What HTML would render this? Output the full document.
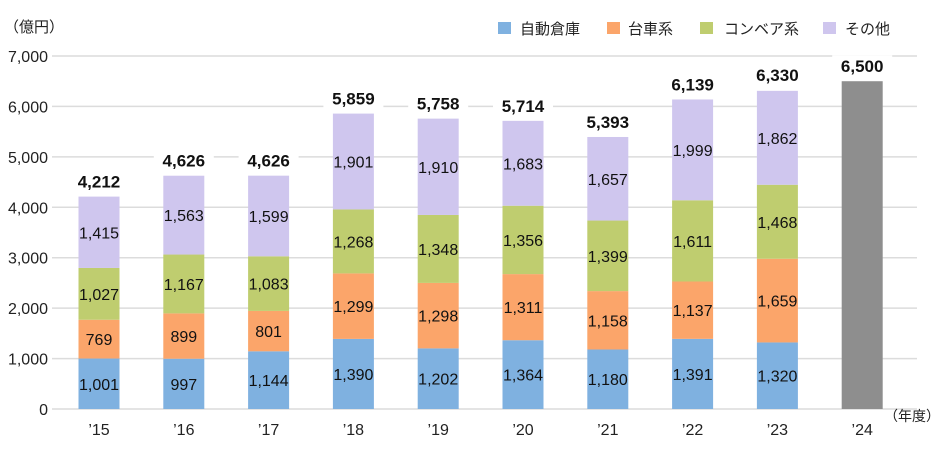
<!DOCTYPE html>
<html><head><meta charset="utf-8"><style>
body{margin:0;background:#fff}
svg text{font-family:"Liberation Sans","Noto Sans CJK JP",sans-serif}
</style></head><body>
<svg id="chart" width="940" height="450" xmlns="http://www.w3.org/2000/svg">
<g id="grid"></g>
<g id="yt"></g>
<g id="bars"></g>
<g id="xt"></g>
<text x="4" y="32" font-size="15" fill="#222">（億円）</text>
<text x="884" y="421" font-size="14" fill="#222">（年度）</text>
<g>
<rect x="498" y="22" width="13" height="12" fill="#7fb1e0"/>
<text x="520" y="34" font-size="15" fill="#222">自動倉庫</text>
<rect x="607" y="22" width="13" height="12" fill="#fba56a"/>
<text x="628" y="34" font-size="15" fill="#222">台車系</text>
<rect x="700" y="22" width="13" height="12" fill="#bfcd6f"/>
<text x="724" y="34" font-size="15" fill="#222">コンベア系</text>
<rect x="823" y="22" width="13" height="12" fill="#cfc6ee"/>
<text x="845" y="34" font-size="15" fill="#222">その他</text>
</g>
</svg>
<script>
const categories=["’15","’16","’17","’18","’19","’20","’21","’22","’23","’24"];
const warehouse=[1001,997,1144,1390,1202,1364,1180,1391,1320,null];
const cart=[769,899,801,1299,1298,1311,1158,1137,1659,null];
const conveyor=[1027,1167,1083,1268,1348,1356,1399,1611,1468,null];
const other=[1415,1563,1599,1901,1910,1683,1657,1999,1862,null];
const totals=[4212,4626,4626,5859,5758,5714,5393,6139,6330,6500];
const yTicks=[0,1000,2000,3000,4000,5000,6000,7000];
const NS="http://www.w3.org/2000/svg";
const y0=409,y1=56,vmax=7000;
const y=v=>y0-(v/vmax)*(y0-y1);
const x=i=>99+i*84.8;
const bw=41;
const fmt=v=>v.toLocaleString("en-US");
function mk(tag,attrs,parent,txt){const e=document.createElementNS(NS,tag);for(const k in attrs)e.setAttribute(k,attrs[k]);if(txt!=null)e.textContent=txt;parent.appendChild(e);return e;}
const grid=document.getElementById("grid"),yt=document.getElementById("yt"),bars=document.getElementById("bars"),xt=document.getElementById("xt");
yTicks.forEach(t=>{
 const l=mk("line",{x1:52,x2:917,y1:y(t),y2:y(t),stroke:"#dcdcdc","stroke-width":1.5},grid);
 
 
 const tx=mk("text",{x:48,y:y(t)+6,"text-anchor":"end","font-size":16,fill:"#222"},yt,fmt(t));
 
 
});
const series=[[warehouse,"#7fb1e0","warehouse"],[cart,"#fba56a","cart"],[conveyor,"#bfcd6f","conveyor"],[other,"#cfc6ee","other"]];
categories.forEach((c,i)=>{
 let base=0;
 if(warehouse[i]==null){
  const r=mk("rect",{x:x(i)-bw/2,y:y(totals[i]),width:bw,height:y(0)-y(totals[i]),fill:"#8e8e8e"},bars);
  
  
 } else {
  series.forEach(([arr,col,nm])=>{
   const v=arr[i];
   const r=mk("rect",{x:x(i)-bw/2,y:y(base+v),width:bw,height:y(base)-y(base+v),fill:col},bars);
   
   
   const t=mk("text",{x:x(i),y:(y(base)+y(base+v))/2+6,"text-anchor":"middle","font-size":16,fill:"#111"},bars,fmt(v));
   
   
   base+=v;
  });
 }
 const ty=y(totals[i])-9;
 const bg=mk("rect",{x:x(i)-30,y:ty-17,width:60,height:22,fill:"#fff"},bars);
 
 
 const tt=mk("text",{x:x(i),y:ty,"text-anchor":"middle","font-size":17,"font-weight":"bold",fill:"#111"},bars,fmt(totals[i]));
 
 
 const xl=mk("text",{x:x(i),y:435,"text-anchor":"middle","font-size":16,fill:"#222"},xt,c);
 
 
});
</script>
</body></html>
